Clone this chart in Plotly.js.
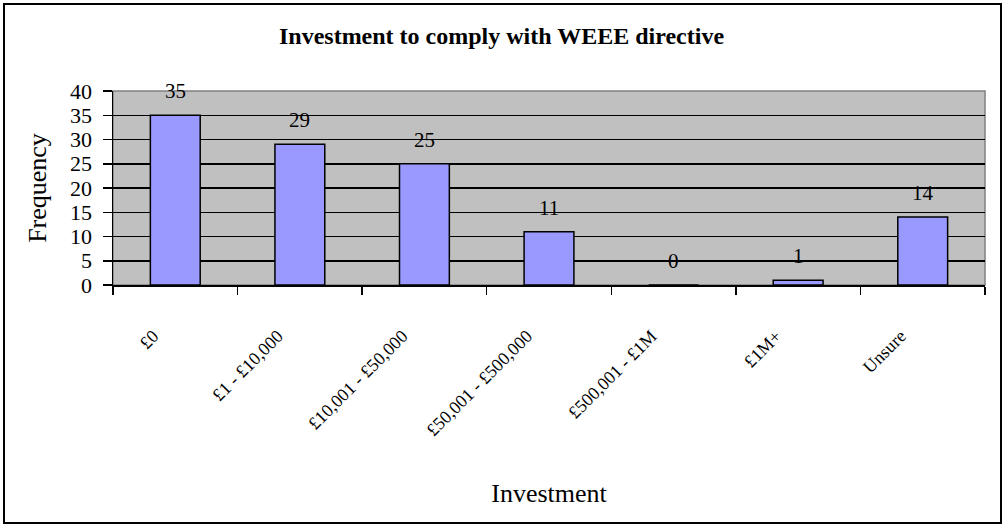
<!DOCTYPE html>
<html>
<head>
<meta charset="utf-8">
<script src="https://cdn.plot.ly/plotly-3.0.1.min.js"></script>
<style>
  html, body { margin: 0; padding: 0; background: #ffffff; }
  #wrap { position: relative; width: 1003px; height: 529px; }
  #chart { position: absolute; left: 0; top: 0; width: 1003px; height: 529px; }
  #frame { position: absolute; left: 3px; top: 3px; width: 995px; height: 517px;
           border: 2px solid #000; pointer-events: none; }
</style>
</head>
<body>
<div id="wrap">
  <div id="chart"></div>
  <div id="frame"></div>
</div>
<script>
const categories = ["£0", "£1 - £10,000", "£10,001 - £50,000", "£50,001 - £500,000", "£500,001 - £1M", "£1M+", "Unsure"];
const frequency = [35, 29, 25, 11, 0, 1, 14];
const yTicks = [0, 5, 10, 15, 20, 25, 30, 35, 40];

const serif = "Liberation Serif, Times New Roman, serif";

const trace = {
  type: "bar",
  x: categories,
  y: frequency,
  marker: { color: "#9999ff", line: { color: "#000000", width: 1.5 } },
  hoverinfo: "x+y"
};

const annotations = categories.map((c, i) => ({
  x: c, y: frequency[i], xref: "x", yref: "y",
  text: String(frequency[i]), showarrow: false,
  yanchor: "middle", yshift: 24,
  font: { family: serif, size: 21, color: "#000" }
}));

const layout = {
  width: 1003, height: 529,
  margin: { l: 113, r: 18, t: 91, b: 244 },
  paper_bgcolor: "#ffffff",
  plot_bgcolor: "#c0c0c0",
  bargap: 0.6,
  showlegend: false,
  title: {
    text: "<b>Investment to comply with WEEE directive</b>",
    font: { family: serif, size: 24, color: "#000" },
    x: 0.5, xanchor: "center", y: 0.932, yanchor: "middle"
  },
  xaxis: {
    type: "category",
    tickangle: -45,
    tickson: "boundaries",
    ticks: "outside", ticklen: 8, tickwidth: 1.5, tickcolor: "#000",
    ticklabelstandoff: 32,
    ticklabelshift: -22,
    showline: true, linecolor: "#000", linewidth: 1.5,
    showgrid: false,
    tickfont: { family: serif, size: 18, color: "#000" },
    title: { text: "Investment", font: { family: serif, size: 26, color: "#000" }, standoff: 45 },
    automargin: false,
    fixedrange: true
  },
  yaxis: {
    range: [0, 40],
    tickvals: yTicks,
    ticktext: yTicks.map(String),
    ticks: "outside", ticklen: 9, tickwidth: 1.5, tickcolor: "#000",
    ticklabelstandoff: 6,
    showline: true, linecolor: "#000", linewidth: 1.5,
    showgrid: true, gridcolor: "#000", gridwidth: 1.5,
    zeroline: false,
    tickfont: { family: serif, size: 22, color: "#000" },
    title: { text: "Frequency", font: { family: serif, size: 26, color: "#000" }, standoff: 16 },
    automargin: false,
    fixedrange: true
  },
  shapes: [{
    type: "rect", xref: "paper", yref: "paper", x0: 0, x1: 1, y0: 0, y1: 1,
    line: { color: "#808080", width: 1.5 }, layer: "below"
  }],
  annotations: annotations
};

Plotly.newPlot("chart", [trace], layout, { displayModeBar: false, staticPlot: true });
</script>
</body>
</html>
